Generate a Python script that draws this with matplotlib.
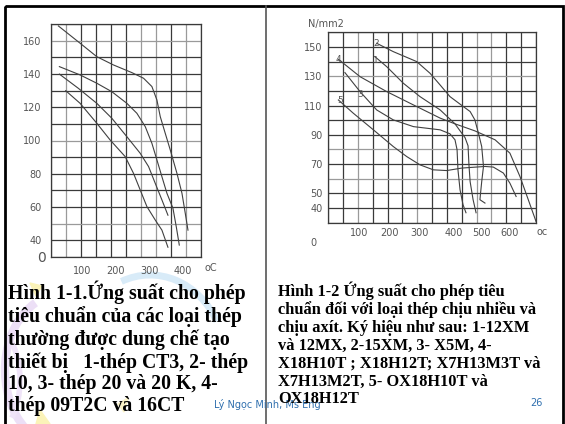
import numpy as np
import matplotlib.pyplot as plt
from matplotlib.patches import Rectangle, Arc, Polygon

W, H = 565, 424

# Hình 1-1 : ứng suất cho phép, thép thường (x: oC, y: N/mm2)
l_x1 = [28, 93, 143, 193, 248, 283, 308, 323, 333, 348, 363, 383, 398, 408, 416]
l_y1 = [169, 158.6, 150.5, 145.5, 140.9, 137.5, 132.5, 124.4, 114.4, 104.3, 94.3, 80.2, 68.2, 56, 46]
l_x2 = [31, 93, 143, 188, 233, 263, 288, 308, 323, 338, 353, 371, 381, 390]
l_y2 = [144.5, 139.5, 134.5, 129.4, 122.4, 116.4, 108.4, 98.3, 88.3, 78.2, 68.2, 59.2, 48, 37]
l_x3 = [31, 88, 143, 188, 233, 273, 298, 318, 338, 356]
l_y3 = [140, 131.4, 122.4, 113.4, 102.3, 92.3, 84.3, 74.2, 64.2, 55]
l_x4 = [50, 93, 143, 183, 228, 253, 273, 293, 318, 338, 356]
l_y4 = [130, 122.4, 110.4, 100.3, 90.3, 80.2, 70.2, 60.2, 52.1, 46, 35.7]
left_curves = [(l_x1, l_y1), (l_x2, l_y2), (l_x3, l_y3), (l_x4, l_y4)]
left_yticks = [40, 60, 80, 100, 120, 140, 160]
left_xticks = [100, 200, 300, 400]

# Hình 1-2 : thép chịu nhiệt và chịu axít
r_x1 = [157, 197, 253, 309, 377, 427, 461, 471, 474, 478, 488, 498]
r_y1 = [143.4, 136.5, 125.2, 116.1, 107, 97.5, 88, 82.5, 69.5, 58, 45.7, 36.8]
r_x2 = [163, 219, 298, 343, 377, 410, 455, 478, 494, 506, 517, 523, 517, 511, 528]
r_y2 = [152.5, 146.8, 140, 132, 124, 116.1, 109.3, 105.9, 100.2, 91.1, 82, 68.4, 58, 45.7, 43.4]
r_x3 = [56, 107, 163, 219, 287, 377, 410, 427, 434, 437, 444, 454, 464]
r_y3 = [132.5, 119.5, 107, 100.2, 95.6, 93.4, 90.7, 86.6, 79.8, 66.1, 52.5, 42.3, 36.8]
r_x4 = [34, 107, 197, 287, 377, 427, 494, 562, 612, 646, 674, 700]
r_y4 = [141.6, 129.7, 119.5, 110.4, 101.4, 97.5, 92.7, 86.6, 77.5, 61.5, 45.7, 30.9]
r_x5 = [34, 84, 152, 219, 264, 309, 354, 399, 450, 528, 556, 590, 612, 633]
r_y5 = [113.8, 104.8, 93.4, 82, 75.2, 69.5, 66.1, 65.6, 67.3, 68.4, 68, 63.9, 57, 47.9]
right_curves = [(r_x1, r_y1), (r_x2, r_y2), (r_x3, r_y3), (r_x4, r_y4), (r_x5, r_y5)]
curve_names = ['1', '2', '3', '4', '5']
name_x = [160, 160, 107, 34, 39]
name_y = [140.6, 152.5, 117.2, 141.6, 113.1]
right_yticks = [40, 50, 70, 90, 110, 130, 150]
right_xticks = ['100', '200', '300', '400', '500', '600']
right_xtick_pos = [105, 206, 307, 422, 515, 612]

cap_left = ("Hình 1-1.Ứng suất cho phép\n"
            "tiêu chuẩn của các loại thép\n"
            "thường được dung chế tạo\n"
            "thiết bị   1-thép CT3, 2- thép\n"
            "10, 3- thép 20 và 20 K, 4-\n"
            "thép 09T2C và 16CT")
cap_right = ("Hình 1-2 Ứng suất cho phép tiêu\n"
             "chuẩn đối với loại thép chịu nhiều và\n"
             "chịu axít. Ký hiệu như sau: 1-12XM\n"
             "và 12MX, 2-15XM, 3- X5M, 4-\n"
             "X18H10T ; X18H12T; X7H13M3T và\n"
             "X7H13M2T, 5- OX18H10T và\n"
             "OX18H12T")

fig = plt.figure(figsize=(W / 100, H / 100), dpi=100)
fig.patch.set_facecolor('white')

# background layer in pixel units: slide frame, divider, faint template swirls
bg = fig.add_axes([0, 0, 1, 1], zorder=-5)
bg.set_xlim(0, W)
bg.set_ylim(H, 0)
bg.axis('off')
bg.add_patch(Arc((150, 360), 150, 170, theta1=250, theta2=330, color='#cfe6f7', lw=5, alpha=0.8))
bg.add_patch(Arc((60, 370), 110, 150, theta1=120, theta2=250, color='#eadcf5', lw=6, alpha=0.9))
bg.add_patch(Arc((-10, 380), 60, 110, theta1=-60, theta2=60, color='#efe4f8', lw=4))
bg.add_patch(Polygon([[30, 283], [42, 286], [36, 296]], color='#fbf3b8'))
bg.add_patch(Polygon([[40, 410], [50, 424], [36, 424]], color='#fbf3b8'))
bg.add_patch(Polygon([[118, 404], [128, 398], [124, 412]], color='#fbf3c8'))
bg.add_patch(Rectangle((4.5, 6), 558.5, 430, fill=False, ec='black', lw=2.0))
bg.plot([265.5, 265.5], [6, 424], color='#555555', lw=1.2)

lab = dict(color='#555555', fontsize=7, family='DejaVu Sans')
grid_dark = '#3a3a3a'
grid_gray = '#9a9a9a'
curve_c = '#404040'

def px(x, y):
    return x / W, 1 - y / H

# ---- left chart
axl = fig.add_axes([50.7 / W, 1 - 256.7 / H, 150.3 / W, 232.4 / H])
axl.patch.set_alpha(0)
axl.set_xlim(5, 455)
axl.set_ylim(30, 170)
for i, gx in enumerate(np.arange(5, 456, 45)):
    axl.axvline(gx, color=grid_gray if i in (1, 6, 7, 9) else grid_dark, lw=0.9, zorder=1)
for i, gy in enumerate(np.arange(170, 29, -10)):
    axl.axhline(gy, color=grid_gray if i in (1, 7, 12) else grid_dark, lw=0.9, zorder=1)
for cx, cy in left_curves:
    axl.plot(cx, cy, color=curve_c, lw=0.8, zorder=2)
axl.set_yticks(left_yticks)
axl.set_yticklabels([str(v) for v in left_yticks], **lab)
axl.set_xticks(left_xticks)
axl.set_xticklabels([str(v) for v in left_xticks], **lab)
axl.tick_params(length=0, pad=6.5)
for s in axl.spines.values():
    s.set_color(grid_dark)
    s.set_linewidth(0.9)
fig.text(*px(41.5, 258), '0', ha='center', va='center', color='#555555', fontsize=10)
fig.text(*px(211, 268), 'oC', ha='center', va='center', **lab)

# ---- right chart
axr = fig.add_axes([328.3 / W, 1 - 222.7 / H, 207.7 / W, 190.4 / H])
axr.patch.set_alpha(0)
axr.set_xlim(0, 700)
axr.set_ylim(30, 160)
for i, gx in enumerate(np.arange(0, 701, 50)):
    axr.axvline(gx, color=grid_gray if i in (2, 6, 10, 11) else grid_dark, lw=0.9, zorder=1)
for i, gy in enumerate(np.arange(160, 29, -10)):
    axr.axhline(gy, color=grid_gray if i in (3, 8, 10) else grid_dark, lw=0.9, zorder=1)
for cx, cy in right_curves:
    axr.plot(cx, cy, color=curve_c, lw=0.8, zorder=2)
for n, nx, ny in zip(curve_names, name_x, name_y):
    axr.text(nx, ny, n, ha='center', va='center', color='#555555', fontsize=6.5, zorder=3)
axr.set_yticks(right_yticks)
axr.set_yticklabels([str(v) for v in right_yticks], **lab)
axr.set_xticks(right_xtick_pos)
axr.set_xticklabels(right_xticks, **lab)
axr.tick_params(length=0, pad=4)
for s in axr.spines.values():
    s.set_color(grid_dark)
    s.set_linewidth(0.9)
fig.text(*px(326, 23.5), 'N/mm2', ha='center', va='center', **lab)
fig.text(*px(313.5, 243.5), '0', ha='center', va='center', **lab)
fig.text(*px(542.5, 232.5), 'oc', ha='center', va='center', **lab)

# ---- captions
fig.text(*px(214, 404), 'Lý Ngọc Minh, Ms Eng', ha='left', va='center',
         color='#2f6fae', fontsize=7, family='DejaVu Sans')
fig.text(*px(536, 403), '26', ha='center', va='center',
         color='#2f6fae', fontsize=7, family='DejaVu Sans')
fig.text(*px(8, 281), cap_left, ha='left', va='top', fontsize=14.2,
         family='Liberation Serif', weight='bold', linespacing=1.13)
fig.text(*px(278, 281), cap_right, ha='left', va='top', fontsize=11.8,
         family='Liberation Serif', weight='bold', linespacing=1.15)

fig.savefig('out.png', dpi=100)
